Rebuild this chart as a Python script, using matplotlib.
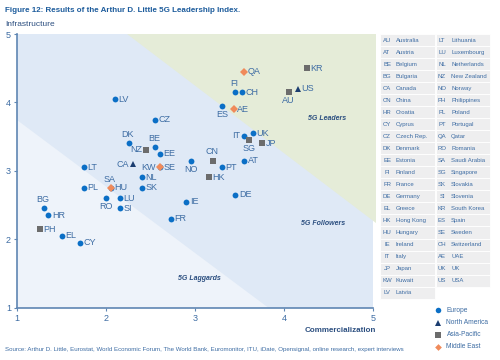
import matplotlib
matplotlib.use("Agg")
import matplotlib.pyplot as plt
from matplotlib.patches import Polygon, Rectangle
from matplotlib.lines import Line2D

plt.rcParams["font.family"] = ["Liberation Sans", "DejaVu Sans"]

# ---------------- data ----------------
codes = ["AU","AT","BE","BG","CA","CN","HR","CY","CZ","DK","EE","FI","FR","DE","EL",
         "HK","HU","IE","IT","JP","KW","LV","LT","LU","NL","NZ","NO","PH","PL","PT",
         "QA","RO","SA","SG","SK","SI","KR","ES","SE","CH","AE","UK","US"]
commercialization = [4.05,3.55,2.55,1.30,2.30,3.20,1.35,1.70,2.55,2.25,2.60,3.45,2.73,3.45,1.50,
                     3.15,2.05,2.90,3.55,3.75,2.60,2.10,1.75,2.15,2.40,2.45,2.95,1.25,1.75,3.30,
                     3.55,2.00,2.05,3.60,2.40,2.15,4.25,3.30,2.60,3.53,3.43,3.65,4.15]
infrastructure = [4.15,3.15,3.35,2.45,3.10,3.15,2.35,1.95,3.75,3.40,3.25,4.15,2.30,2.65,2.05,
                  2.91,2.75,2.55,3.51,3.40,3.05,4.05,3.05,2.60,2.91,3.31,3.15,2.15,2.75,3.05,
                  4.45,2.60,2.75,3.45,2.75,2.45,4.50,3.95,3.05,4.15,3.90,3.55,4.20]
regions = ["AP","EU","EU","EU","NA","AP","EU","EU","EU","EU","EU","EU","EU","EU","EU",
           "AP","EU","EU","EU","AP","ME","EU","EU","EU","EU","AP","EU","AP","EU","EU",
           "ME","EU","ME","AP","EU","EU","AP","EU","EU","EU","ME","EU","NA"]
label_pos = ["b","r","t","t","l","t","r","r","r","t","r","t","r","r","r",
             "r","r","r","l","r","l","r","r","r","r","l","b","r","r","r",
             "r","b","t","b","r","r","r","b","r","r","r","r","r"]

table_left = [("AU","Australia"),("AT","Austria"),("BE","Belgium"),("BG","Bulgaria"),
              ("CA","Canada"),("CN","China"),("HR","Croatia"),("CY","Cyprus"),
              ("CZ","Czech Rep."),("DK","Denmark"),("EE","Estonia"),("FI","Finland"),
              ("FR","France"),("DE","Germany"),("EL","Greece"),("HK","Hong Kong"),
              ("HU","Hungary"),("IE","Ireland"),("IT","Italy"),("JP","Japan"),
              ("KW","Kuwait"),("LV","Latvia")]
table_right = [("LT","Lithuania"),("LU","Luxembourg"),("NL","Netherlands"),("NZ","New Zealand"),
               ("NO","Norway"),("PH","Philippines"),("PL","Poland"),("PT","Portugal"),
               ("QA","Qatar"),("RO","Romania"),("SA","Saudi Arabia"),("SG","Singapore"),
               ("SK","Slovakia"),("SI","Slovenia"),("KR","South Korea"),("ES","Spain"),
               ("SE","Sweden"),("CH","Switzerland"),("AE","UAE"),("UK","UK"),("US","USA")]

region_names = {"EU":"Europe","NA":"North America","AP":"Asia-Pacific","ME":"Middle East"}

# ---------------- styles ----------------
W, H = 500, 360
TXT = "#3d6ca3"
TITLE = "#1d5c9c"
AXC = "#5f86b3"
styles = {"EU":dict(marker="o", color="#0b6fc6", ms=4.2),
          "NA":dict(marker="^", color="#1b3d70", ms=4.2),
          "AP":dict(marker="s", color="#6c6c6c", ms=3.8),
          "ME":dict(marker="D", color="#f08a5a", ms=3.6)}

fig = plt.figure(figsize=(5, 3.6), dpi=100)
fig.patch.set_facecolor("white")

def fx(px): return px / W
def fy(py): return 1 - py / H

ax = fig.add_axes([fx(17.3), fy(307.7), fx(373.3) - fx(17.3), fy(34) - fy(307.7)])
ax.set_xlim(1, 5)
ax.set_ylim(1, 5)

# background zones
ax.add_patch(Polygon([(1, 1), (5, 1), (5, 5), (1, 5)], closed=True, fc="#dfe9f6", ec="none", zorder=0))
ax.add_patch(Polygon([(1, 1), (3.82, 1), (1, 3.74)], closed=True, fc="#eef3fa", ec="none", zorder=0.5))
ax.add_patch(Polygon([(2.23, 5), (5.03, 5), (5.03, 2.24)], closed=True, fc="#e5ecd8", ec="none",
                     zorder=0.5, clip_on=False))

ax.text(4.48, 3.77, "5G Leaders", fontsize=5, style="italic", weight="bold", color="#2c4f80", ha="center", va="center")
ax.text(4.43, 2.23, "5G Followers", fontsize=5, style="italic", weight="bold", color="#2c4f80", ha="center", va="center")
ax.text(3.05, 1.42, "5G Laggards", fontsize=5, style="italic", weight="bold", color="#2c4f80", ha="center", va="center")

# points: Europe first, then others on top
order = ["EU", "AP", "NA", "ME"]
for reg in order:
    xs = [x for x, r in zip(commercialization, regions) if r == reg]
    ys = [y for y, r in zip(infrastructure, regions) if r == reg]
    st = styles[reg]
    ax.plot(xs, ys, linestyle="none", marker=st["marker"], color=st["color"],
            markersize=st["ms"], markeredgewidth=0, zorder=3)

for c, x, y, p in zip(codes, commercialization, infrastructure, label_pos):
    if p == "r":
        ax.annotate(c, (x, y), xytext=(2.5, 0), textcoords="offset points", ha="left", va="center",
                    fontsize=6.5, color=TXT, zorder=4)
    elif p == "l":
        ax.annotate(c, (x, y), xytext=(-3, 0), textcoords="offset points", ha="right", va="center",
                    fontsize=6.5, color=TXT, zorder=4)
    elif p == "t":
        ax.annotate(c, (x, y), xytext=(-1, 3), textcoords="offset points", ha="center", va="bottom",
                    fontsize=6.5, color=TXT, zorder=4)
    else:
        ax.annotate(c, (x, y), xytext=(0, -3), textcoords="offset points", ha="center", va="top",
                    fontsize=6.5, color=TXT, zorder=4)

for s in ["top", "right"]:
    ax.spines[s].set_visible(False)
for s in ["left", "bottom"]:
    ax.spines[s].set_color(AXC)
    ax.spines[s].set_linewidth(1.2)
ax.set_xticks([1, 2, 3, 4, 5])
ax.set_yticks([1, 2, 3, 4, 5])
ax.tick_params(axis="both", colors=AXC, labelcolor=TXT, labelsize=6.5, length=2.5, width=0.8, pad=2)
ax.set_facecolor("none")

# titles / labels
fig.text(fx(5), fy(10), "Figure 12: Results of the Arthur D. Little 5G Leadership Index.",
         fontsize=5.8, weight="bold", color=TITLE, ha="left", va="center")
fig.text(fx(5), fy(24.5), "Infrastructure", fontsize=6, color="#2c4f80", ha="left", va="center")
fig.text(fx(376), fy(331), "Commercialization", fontsize=5.8, weight="bold", color="#2c4f80",
         ha="right", va="center")
fig.text(fx(5), fy(349.5), "Source: Arthur D. Little, Eurostat, World Economic Forum, The World Bank, Euromonitor, ITU, iDate, Opensignal, online research, expert interviews",
         fontsize=4.45, color=TXT, ha="left", va="center")

# country table
row_h = 12.03
top = 34.0
def draw_col(items, x0, x1, abbr_x, name_x):
    for i, (ab, nm) in enumerate(items):
        y0 = top + i * row_h
        fig.patches.append(Rectangle((fx(x0), fy(y0 + row_h)), fx(x1) - fx(x0), row_h / H,
                                     transform=fig.transFigure, fc="#eeeeef", ec="white", lw=0.6))
        yc = y0 + row_h / 2
        fig.text(fx(abbr_x), fy(yc), ab, fontsize=4.3, color=TXT, ha="center", va="center")
        fig.text(fx(name_x), fy(yc), nm, fontsize=4.3, color=TXT, ha="left", va="center")

draw_col(table_left, 380, 434.5, 387, 395.5)
draw_col(table_right, 435.5, 489.5, 442, 451)

# legend
leg_y = [310, 322.7, 334.7, 347]
for reg, yy in zip(["EU", "NA", "AP", "ME"], leg_y):
    st = styles[reg]
    fig.lines.append(Line2D([fx(437.5)], [fy(yy)], transform=fig.transFigure, linestyle="none",
                            marker=st["marker"], color=st["color"], markersize=st["ms"] * 0.95,
                            markeredgewidth=0))
    fig.text(fx(446.5), fy(yy), region_names[reg], fontsize=4.8, color=TXT, ha="left", va="center")

fig.savefig("out.png", dpi=100)
